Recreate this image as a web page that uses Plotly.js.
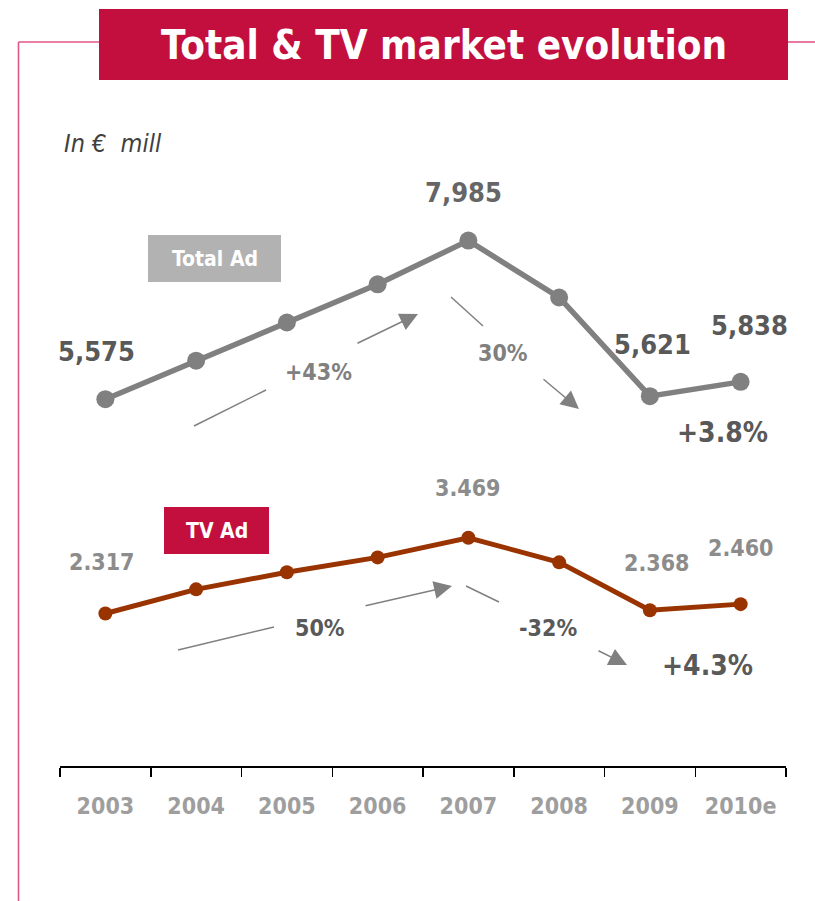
<!DOCTYPE html>
<html>
<head>
<meta charset="utf-8">
<script src="https://cdn.plot.ly/plotly-3.0.1.min.js"></script>
<style>html,body{margin:0;padding:0;background:#fff;}#chart{width:815px;height:901px;}</style>
</head>
<body>
<div id="chart"></div>
<script>
// ---- data ----
const years = ['2003','2004','2005','2006','2007','2008','2009','2010e'];
const totalAd = [5575, 6160, 6740, 7320, 7985, 7120, 5621, 5838];
const tvAd = [2317, 2685, 2945, 3170, 3469, 3095, 2368, 2460];
const totalLabelIdx = [0, 4, 6, 7];
const totalLabels = ['5,575', '7,985', '5,621', '5,838'];
const tvLabelIdx = [0, 4, 6, 7];
const tvLabels = ['2.317', '3.469', '2.368', '2.460'];
const growthTexts = ['+43%', '30%', '+3.8%', '50%', '-32%', '+4.3%'];

// ---- layout helpers (pixel -> paper) ----
const L = 60, R = 29, T = 108, B = 135, W = 815, H = 901;
const PW = W - L - R, PH = H - T - B;
const px = x => (x - L) / PW;
const py = y => (H - B - y) / PH;

const FONT = '"DejaVu Sans Condensed", "DejaVu Sans", sans-serif';
const CRIMSON = '#C30F3E';
const PINK = '#E2578A';

const traces = [
  {x: years, y: totalAd, type: 'scatter', mode: 'lines+markers', name: 'Total Ad',
   line: {color: '#808080', width: 5.5}, marker: {color: '#808080', size: 18}, hoverinfo: 'skip'},
  {x: years, y: tvAd, type: 'scatter', mode: 'lines+markers', name: 'TV Ad',
   line: {color: '#993300', width: 5}, marker: {color: '#993300', size: 14}, hoverinfo: 'skip'}
];

const shapes = [];
const line = (x0, y0, x1, y1, color, width) => shapes.push({type: 'line', xref: 'paper', yref: 'paper',
  x0: px(x0), y0: py(y0), x1: px(x1), y1: py(y1), line: {color: color, width: width}});
const rect = (x0, y0, x1, y1, fill) => shapes.push({type: 'rect', xref: 'paper', yref: 'paper',
  x0: px(x0), y0: py(y0), x1: px(x1), y1: py(y1), fillcolor: fill, line: {width: 0}, layer: 'above'});

// frame
line(18.5, 42, 99, 42, PINK, 1.6);
line(788, 42, 815, 42, PINK, 1.6);
line(18.5, 42, 18.5, 901, PINK, 1.6);
// title box and legend boxes
rect(99, 9, 788, 80, CRIMSON);
rect(148, 235, 281, 282, '#B2B2B2');
rect(164, 507, 269, 554, CRIMSON);
// arrow tails
line(194, 426, 266, 390, '#808080', 1.5);
line(451, 297, 483, 326, '#808080', 1.5);
line(178, 650, 274, 627, '#808080', 1.5);
line(466, 586, 499, 602, '#808080', 1.5);

const ann = [];
const txt = (x, y, text, size, color, bold, extra) => ann.push(Object.assign({
  xref: 'paper', yref: 'paper', x: px(x), y: py(y), text: bold ? '<b>' + text + '</b>' : text,
  showarrow: false, xanchor: 'center', yanchor: 'middle',
  font: {family: FONT, size: size, color: color}}, extra || {}));

txt(443.5, 44.5, 'Total &amp; TV market evolution', 40, '#ffffff', true);
txt(62, 143, '<i>In €\u00A0 mill</i>', 25, '#404040', false, {xanchor: 'left'});
txt(214.5, 258.5, 'Total Ad', 21, '#ffffff', true);
txt(216.5, 530.5, 'TV Ad', 21, '#ffffff', true);
txt(318, 372, growthTexts[0], 23, '#808080', true);
txt(503, 353, growthTexts[1], 23, '#808080', true);
txt(722, 432, growthTexts[2], 28, '#595959', true);
txt(320, 628, growthTexts[3], 23, '#595959', true);
txt(548, 628, growthTexts[4], 23, '#595959', true);
txt(707, 665, growthTexts[5], 28, '#595959', true);

// arrow heads
const arrow = (tx, ty, ax, ay) => ann.push({xref: 'paper', yref: 'paper', x: px(tx), y: py(ty),
  ax: ax, ay: ay, axref: 'pixel', ayref: 'pixel', text: '', showarrow: true,
  arrowhead: 2, arrowsize: 2.4, arrowwidth: 1.5, arrowcolor: '#808080', standoff: 0});
arrow(418, 314, -62, 30);
arrow(579, 409, -37, -31);
arrow(452, 586, -88, 20);
arrow(627, 665, -30, -15);

// value labels anchored to data points (category axis position = index)
const totShift = [[-9, 48], [-5, 48], [3, 52], [9, 56]];
totalLabelIdx.forEach((i, k) => ann.push({x: i, y: totalAd[i], xref: 'x', yref: 'y',
  text: '<b>' + totalLabels[k] + '</b>', showarrow: false, xshift: totShift[k][0], yshift: totShift[k][1],
  xanchor: 'center', yanchor: 'middle',
  font: {family: FONT, size: 27, color: k === 1 ? '#666666' : '#595959'}}));
const tvShift = [[-4, 52], [-1, 50], [7, 47], [0, 56]];
tvLabelIdx.forEach((i, k) => ann.push({x: i, y: tvAd[i], xref: 'x', yref: 'y',
  text: '<b>' + tvLabels[k] + '</b>', showarrow: false, xshift: tvShift[k][0], yshift: tvShift[k][1],
  xanchor: 'center', yanchor: 'middle',
  font: {family: FONT, size: 23, color: '#8C8C8C'}}));

const layout = {
  width: W, height: H, margin: {l: L, r: R, t: T, b: B, pad: 0},
  paper_bgcolor: '#ffffff', plot_bgcolor: '#ffffff', showlegend: false,
  xaxis: {type: 'category', range: [-0.5, 7.5], showgrid: false, zeroline: false,
    showline: true, linecolor: '#000000', linewidth: 2, ticks: 'outside', tickson: 'boundaries',
    ticklen: 9, tickwidth: 1.5, tickcolor: '#000000', ticklabelstandoff: 18,
    tickfont: {family: FONT, size: 23, color: '#9E9E9E', weight: 'bold'}, fixedrange: true},
  yaxis: {range: [0, 10000], visible: false, showgrid: false, zeroline: false, fixedrange: true},
  shapes: shapes, annotations: ann
};

Plotly.newPlot('chart', traces, layout, {displayModeBar: false, staticPlot: true});
</script>
</body>
</html>
